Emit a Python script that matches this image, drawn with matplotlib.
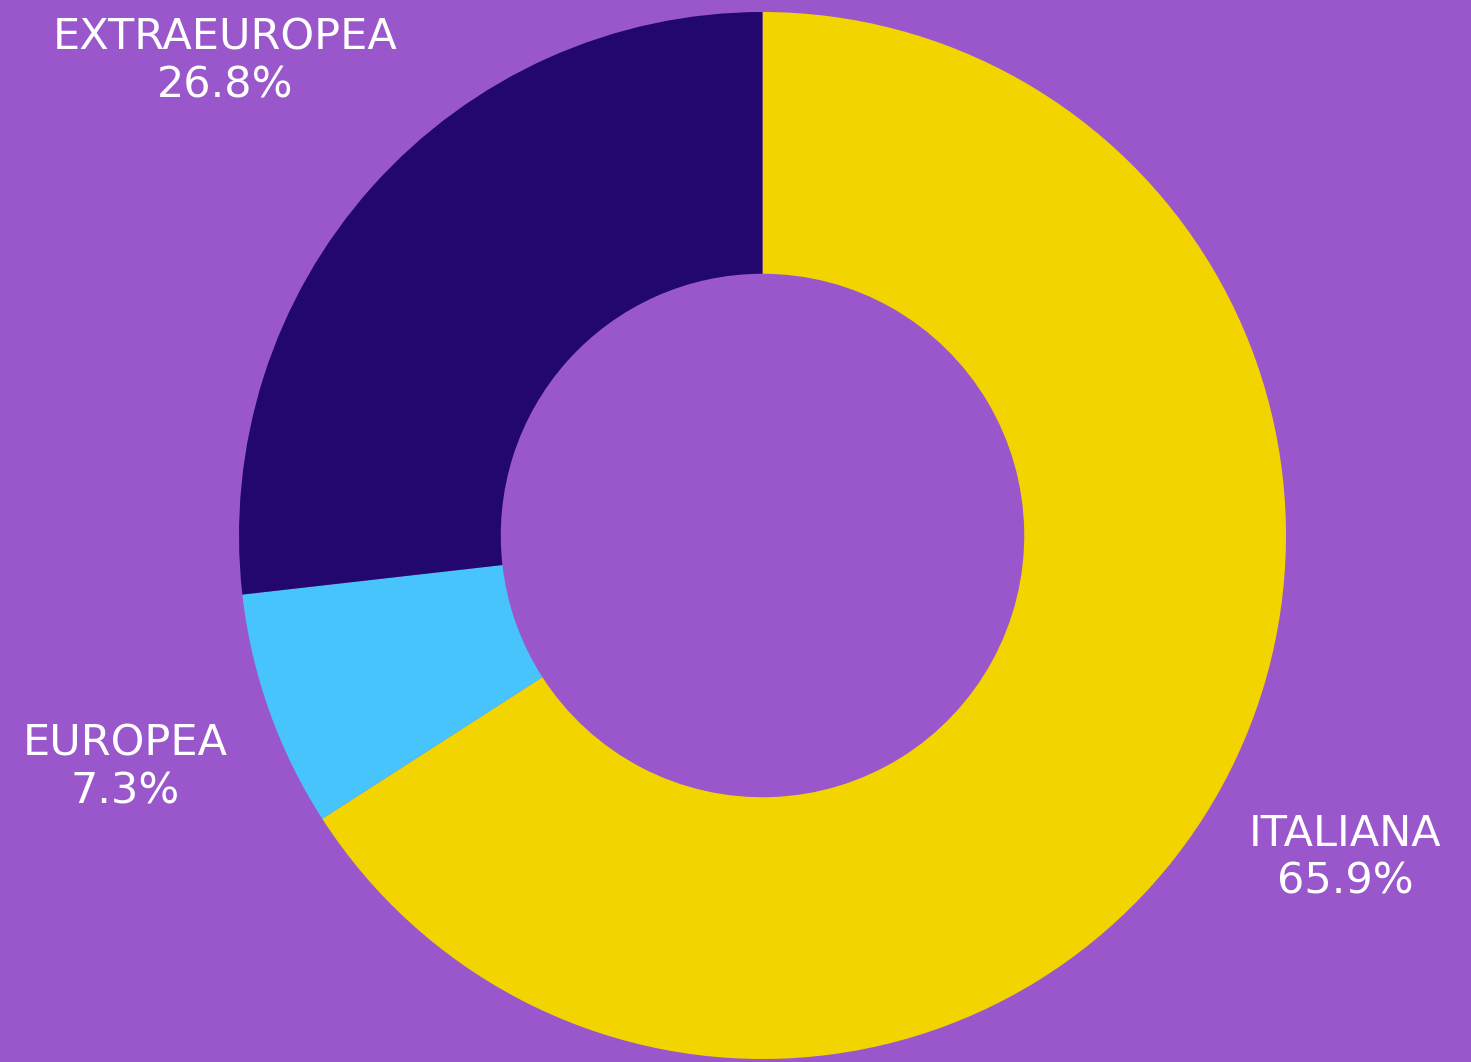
import matplotlib
matplotlib.use("Agg")
import matplotlib.pyplot as plt

categories = ["ITALIANA", "EUROPEA", "EXTRAEUROPEA"]
values = [65.9, 7.3, 26.8]
colors = ["#F2D400", "#48C4FC", "#22086E"]
bg = "#9A57CC"

W, H = 1471, 1062
fig = plt.figure(figsize=(W / 100, H / 100), dpi=100, facecolor=bg)
ax = fig.add_axes([0, 0, 1, 1])
ax.set_facecolor(bg)

cx, cy, R = 762.5, H - 535.5, 523.5
ax.pie(values, colors=colors, startangle=90, counterclock=False,
       center=(cx, cy), radius=R, frame=True,
       wedgeprops=dict(width=R * 0.5, linewidth=0))
ax.set_xlim(0, W)
ax.set_ylim(0, H)
ax.set_aspect("equal")
ax.axis("off")

# label positions (pixel coords: x centre, baseline of first line)
label_pos = {"EXTRAEUROPEA": (225, 49), "EUROPEA": (125, 756), "ITALIANA": (1345, 846)}
for cat, val in zip(categories, values):
    x, y = label_pos[cat]
    ax.text(x, H - y, cat, color="white", fontsize=31, ha="center", va="baseline",
            family="DejaVu Sans")
    ax.text(x, H - y - 48, f"{val:.1f}%", color="white", fontsize=31, ha="center",
            va="baseline", family="DejaVu Sans")

fig.savefig("out.png", dpi=100, facecolor=bg)
